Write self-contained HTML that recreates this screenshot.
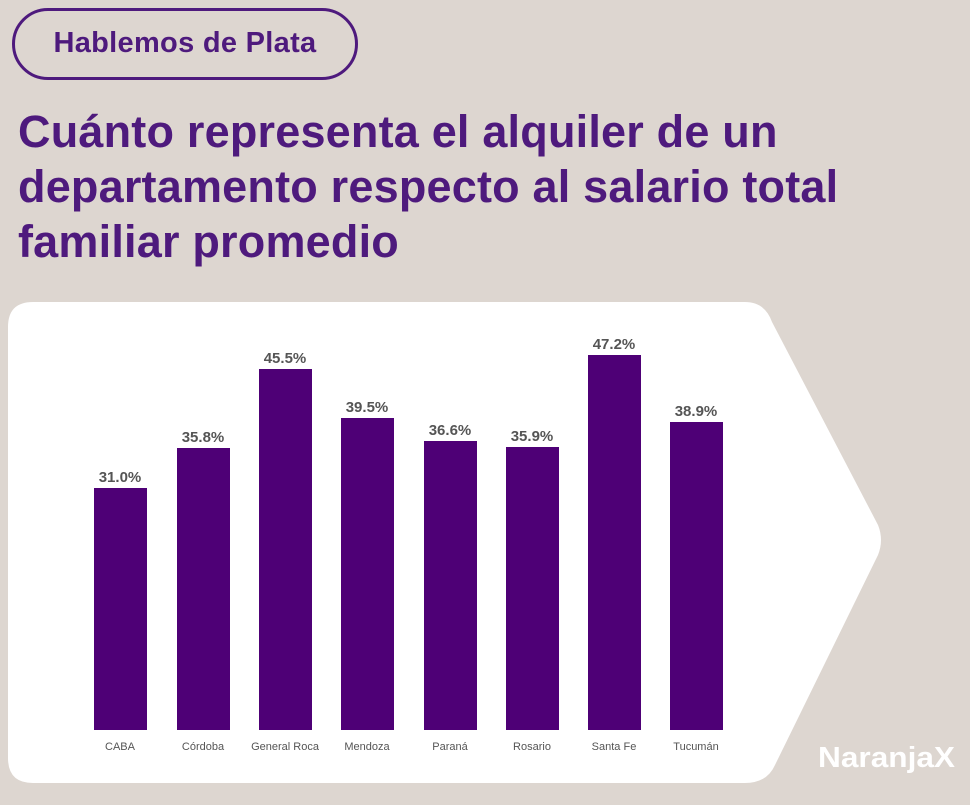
<!DOCTYPE html>
<html><head><meta charset="utf-8"><style>
body{margin:0;width:970px;height:805px;background:#ddd6d0;position:relative;overflow:hidden;font-family:"Liberation Sans",sans-serif}
.pill{position:absolute;left:12px;top:8px;width:340px;height:66px;border:3px solid #4e1a7d;border-radius:36px;box-sizing:content-box}
.pill span{position:absolute;left:0;right:0;top:16px;text-align:center;font-weight:bold;font-size:29px;color:#4e1a7d;letter-spacing:0.3px}
.title{position:absolute;left:18px;top:104px;font-weight:bold;font-size:45px;line-height:55px;color:#4e1a7d;letter-spacing:0.2px}
svg{position:absolute;left:0;top:0}
</style></head><body>
<div class="pill"><span>Hablemos de Plata</span></div>
<div class="title">Cuánto representa el alquiler de un<br>departamento respecto al salario total<br>familiar promedio</div>
<svg width="970" height="805">
<path d="M33,302 H745 Q765,302 772,322 L878,525 Q884,540 878,555 L775,765 Q767,783 745,783 H33 Q8,783 8,758 V327 Q8,302 33,302 Z" fill="#fff"/>
<g fill="#4e0076">
<rect x="94" y="488" width="53" height="242"/>
<rect x="177" y="448" width="53" height="282"/>
<rect x="259" y="369" width="53" height="361"/>
<rect x="341" y="418" width="53" height="312"/>
<rect x="424" y="441" width="53" height="289"/>
<rect x="506" y="447" width="53" height="283"/>
<rect x="588" y="355" width="53" height="375"/>
<rect x="670" y="422" width="53" height="308"/>
</g>
<g font-family="Liberation Sans,sans-serif" font-weight="bold" font-size="15" fill="#555" text-anchor="middle">
<text x="120" y="482">31.0%</text>
<text x="203" y="442">35.8%</text>
<text x="285" y="363">45.5%</text>
<text x="367" y="412">39.5%</text>
<text x="450" y="435">36.6%</text>
<text x="532" y="441">35.9%</text>
<text x="614" y="349">47.2%</text>
<text x="696" y="416">38.9%</text>
</g>
<g font-family="Liberation Sans,sans-serif" font-size="11" fill="#555" text-anchor="middle">
<text x="120" y="750">CABA</text>
<text x="203" y="750">Córdoba</text>
<text x="285" y="750">General Roca</text>
<text x="367" y="750">Mendoza</text>
<text x="450" y="750">Paraná</text>
<text x="532" y="750">Rosario</text>
<text x="614" y="750">Santa Fe</text>
<text x="696" y="750">Tucumán</text>
</g>
<text x="955" y="767" text-anchor="end" font-family="Liberation Sans,sans-serif" font-weight="bold" font-size="29" fill="#fff" textLength="137" lengthAdjust="spacingAndGlyphs">NaranjaX</text>
</svg>
</body></html>
